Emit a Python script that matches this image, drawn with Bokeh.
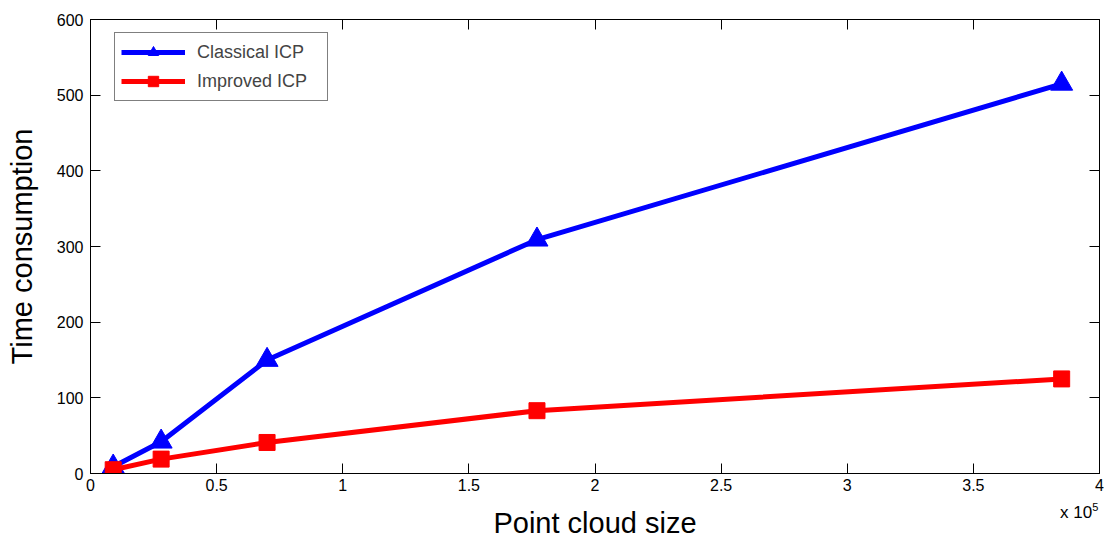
from bokeh.plotting import figure
from bokeh.models import (Range1d, FixedTicker, LinearAxis, Legend, LegendItem, Div)
from bokeh.layouts import column
from bokeh.embed import file_html
from bokeh.resources import INLINE

# Data (x in units of 1e5 points)
point_cloud_size = [0.09, 0.28, 0.70, 1.77, 3.85]
classical_icp = [9, 42, 150, 309, 515]
improved_icp = [5, 19, 41, 83, 125]

x_ticks = [0, 0.5, 1, 1.5, 2, 2.5, 3, 3.5, 4]
x_tick_labels = ["0", "0.5", "1", "1.5", "2", "2.5", "3", "3.5", "4"]
y_ticks = [0, 100, 200, 300, 400, 500, 600]
x_multiplier = "x 10"
x_exponent = "5"

FONT = "Liberation Sans"

p = figure(width=1104, height=542, output_backend="svg", toolbar_location=None,
           x_range=Range1d(0, 4), y_range=Range1d(0, 600),
           min_border_left=90, min_border_right=5, min_border_top=19, min_border_bottom=69,
           x_axis_label="Point cloud size", y_axis_label="Time consumption")
p.grid.visible = False
p.outline_line_color = "black"
p.outline_line_width = 1
p.background_fill_color = "white"
p.border_fill_color = "white"

for ax in p.xaxis + p.yaxis:
    ax.major_tick_in = 10
    ax.major_tick_out = 0
    ax.minor_tick_line_color = None
    ax.axis_line_color = "black"
    ax.major_tick_line_color = "black"
    ax.major_label_text_font = FONT
    ax.major_label_text_font_size = "16px"
    ax.major_label_text_color = "black"
    ax.axis_label_text_font = FONT
    ax.axis_label_text_font_size = "29px"
    ax.axis_label_text_font_style = "normal"
    ax.axis_label_text_color = "black"

p.xaxis.ticker = FixedTicker(ticks=x_ticks)
p.xaxis.major_label_overrides = {t: l for t, l in zip(x_ticks, x_tick_labels)}
p.xaxis.major_label_standoff = 5
p.xaxis.axis_label_standoff = 13
p.yaxis.ticker = FixedTicker(ticks=y_ticks)
p.yaxis.major_label_standoff = 7
p.yaxis.axis_label_standoff = 16

# mirrored axes (ticks only)
top = LinearAxis(ticker=FixedTicker(ticks=x_ticks), major_tick_in=10, major_tick_out=0,
                 minor_tick_line_color=None, major_label_standoff=0,
                 major_label_overrides={t: "" for t in x_ticks})
right = LinearAxis(ticker=FixedTicker(ticks=y_ticks), major_tick_in=10, major_tick_out=0,
                   minor_tick_line_color=None, major_label_standoff=0,
                   major_label_overrides={t: "" for t in y_ticks})
p.add_layout(top, "above")
p.add_layout(right, "right")

l1 = p.line(point_cloud_size, classical_icp, line_color="#0000ff", line_width=5)
m1 = p.scatter(point_cloud_size, classical_icp, marker="triangle", size=22,
               fill_color="#0000ff", line_color="#0000ff")
l2 = p.line(point_cloud_size, improved_icp, line_color="#ff0000", line_width=5)
m2 = p.scatter(point_cloud_size, improved_icp, marker="square", size=16,
               fill_color="#ff0000", line_color="#ff0000")

legend = Legend(items=[LegendItem(label="Classical ICP", renderers=[l1, m1]),
                       LegendItem(label="Improved ICP", renderers=[l2, m2])],
                location=(24, 372))
legend.label_text_font = FONT
legend.label_text_font_size = "18px"
legend.glyph_width = 64
legend.glyph_height = 26
legend.label_height = 22
legend.label_standoff = 12
legend.label_width = 124
legend.spacing = 3
legend.padding = 6
legend.margin = 0
legend.border_line_color = "black"
legend.border_line_width = 1
legend.background_fill_color = "white"
legend.background_fill_alpha = 1
p.add_layout(legend, "center")

mult = Div(text=(f'<span style="font-family:{FONT};font-size:17px;color:black;white-space:nowrap">'
                 f'{x_multiplier}<sup style="font-size:11px">{x_exponent}</sup></span>'),
           width=60, height=26,
           styles={"position": "absolute", "left": "1055px", "top": "495px",
                   "z-index": "10"})

layout = column(p, mult)
open("out.html", "w").write(file_html(layout, INLINE))
